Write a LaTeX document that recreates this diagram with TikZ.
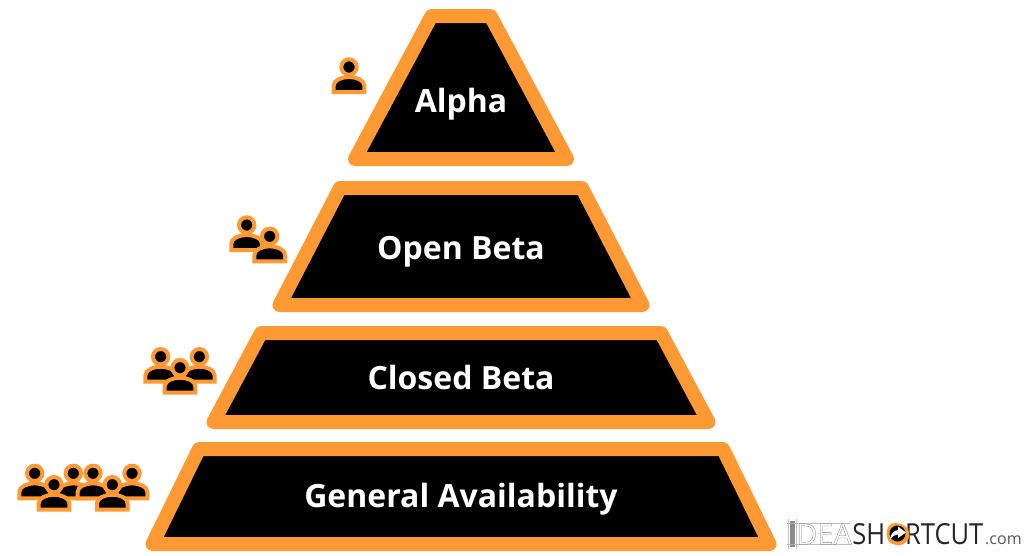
\documentclass[tikz,border=0pt]{standalone}
\usepackage{fontspec}
\setmainfont{Open Sans}
\definecolor{amber}{HTML}{FF9933}
\tikzset{
  x=1pt,y=-1pt,
  tier/.style={draw=amber,fill=black,line width=14pt,line join=round},
  tierlabel/.style={text=white,font=\fontsize{32}{36}\selectfont\bfseries,inner sep=0pt,anchor=base},
  headicon/.style={draw=amber,fill=black,line width=4pt},
  bodyicon/.style={draw=amber,fill=black,line width=4pt,line join=miter},
  logotext/.style={inner sep=0pt,anchor=base west,transform shape},
}
\newcommand{\personicon}[2]{%
  \begin{scope}[shift={(#1,#2)}]
    \draw[bodyicon] (-15.3,25) -- (-15.3,18.5) .. controls (-15.3,13) and (-7,10) .. (0,10) .. controls (7,10) and (15.3,13) .. (15.3,18.5) -- (15.3,25) -- cycle;
    \draw[headicon] (0,0) circle[radius=7.7];
  \end{scope}}
\newcommand{\tiershape}[7]{% name, top half-width, bottom half-width, ytop, ybottom, text baseline, text
  \path[tier] (461-#2,#4) -- (461+#2,#4) -- (461+#3,#5) -- (461-#3,#5) -- cycle;
  \node[tierlabel] (#1) at (461,#6) {#7};}
\begin{document}
\begin{tikzpicture}
\useasboundingbox (0,0) rectangle (1024,555);
\tiershape{alpha}{29.5}{106}{16}{159}{112}{Alpha}
\tiershape{open}{121}{181.5}{188}{305}{259}{Open Beta}
\tiershape{closed}{200}{247.5}{333}{422}{389.5}{Closed Beta}
\tiershape{general}{262}{308.5}{449}{544}{507.5}{General Availability}
% people
\personicon{349}{67}
\personicon{246.7}{225}\personicon{269.7}{236.3}
\personicon{160.7}{356.7}\personicon{199.3}{356.7}\personicon{180}{367.7}
\personicon{34.7}{473.3}\personicon{73.3}{473.3}\personicon{54}{484.7}
\personicon{93}{473.3}\personicon{132}{473.3}\personicon{112.3}{484.7}
% logo
\fill[black!45] (789.5,521) rectangle (794.5,547);
\draw[black!25,line width=.4pt] (787,523) -- (850,523) (787,544) -- (850,544) (788,519) -- (788,549) (796,519) -- (796,549);
\node[logotext,text=black!50,font=\fontsize{29}{29}\selectfont] (logoidea) at (788,544.5) {\special{pdf:code 1 Tr 0.3 w}IDEA\special{pdf:code 0 Tr}};
\begin{scope}[xscale=.88]
\node[logotext,text=black!85,font=\fontsize{29}{29}\selectfont] (logoshort) at (968.5,544.5) {SH{\color{amber}O}RTCUT};
\end{scope}
\fill[amber] (898.5,534.5) circle[radius=10.8];
\fill[black] (897.5,533.5) circle[radius=8];
\fill[white] (890,540) .. controls (890.5,533) and (894,530.5) .. (898,530) -- (898,526.5) -- (906,532.5) -- (898,538) -- (898,534.5) .. controls (895,534.5) and (892,536) .. (890,540) -- cycle;
\node[inner sep=0pt,anchor=base west,text=black!65,font=\fontsize{16}{16}\selectfont] (logocom) at (985,544.5) {.com};
\end{tikzpicture}
\end{document}
